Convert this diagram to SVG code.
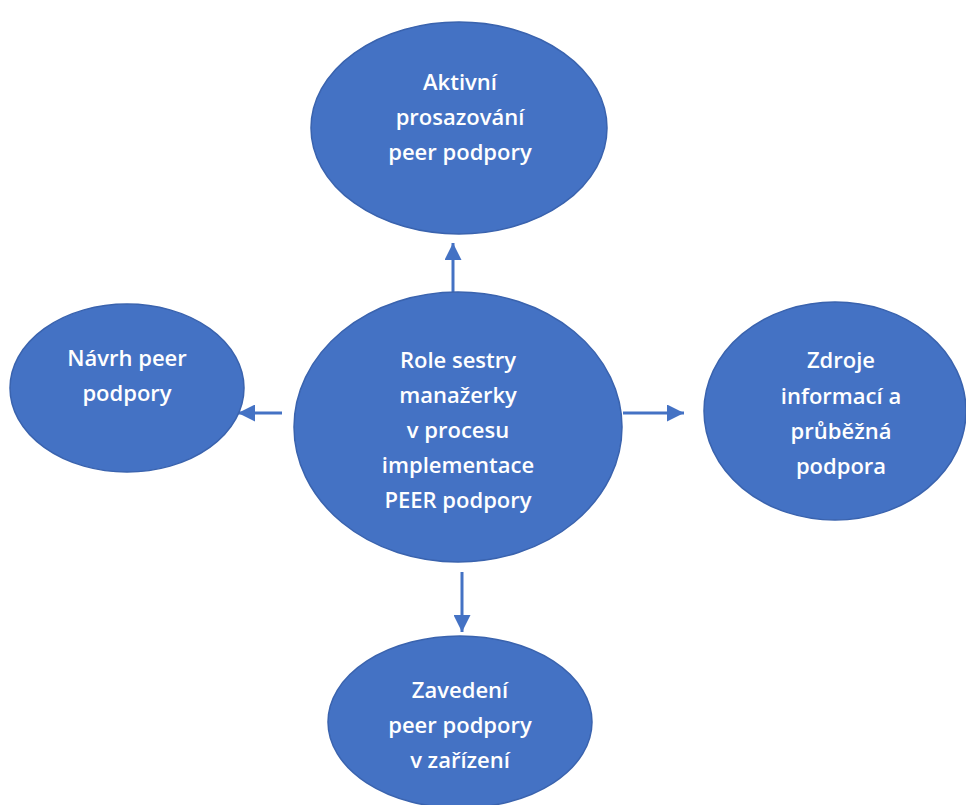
<svg xmlns="http://www.w3.org/2000/svg" width="966" height="805" viewBox="0 0 966 805">
<style>
.n{fill:#4472C4;stroke:#3A63AE;stroke-width:1.5}
.t{fill:#FFFFFF;font-family:"Open Sans","Liberation Sans",sans-serif;font-size:22px;font-weight:600;text-anchor:middle}
.c{stroke:#4472C4;stroke-width:3;fill:none}
</style>
<defs>
<marker id="a" viewBox="0 0 10 10" refX="10" refY="5" markerWidth="17" markerHeight="17" markerUnits="userSpaceOnUse" orient="auto">
<path d="M0,0 L10,5 L0,10 z" fill="#4472C4"/>
</marker>
</defs>
<rect width="966" height="805" fill="#FFFFFF"/>
<g id="connectors">
<line class="c" x1="453" y1="292" x2="453" y2="243" marker-end="url(#a)"/>
<line class="c" x1="282" y1="413" x2="238" y2="413" marker-end="url(#a)"/>
<line class="c" x1="623" y1="413" x2="684" y2="413" marker-end="url(#a)"/>
<line class="c" x1="462" y1="572" x2="462" y2="632" marker-end="url(#a)"/>
</g>
<g id="node-top">
<ellipse class="n" cx="459" cy="128" rx="148" ry="106"/>
<text class="t" x="460" y="90">Aktivní</text>
<text class="t" x="460" y="125">prosazování</text>
<text class="t" x="460" y="160">peer podpory</text>
</g>
<g id="node-center">
<ellipse class="n" cx="458" cy="427" rx="164" ry="135"/>
<text class="t" x="458" y="368">Role sestry</text>
<text class="t" x="458" y="403">manažerky</text>
<text class="t" x="458" y="438">v procesu</text>
<text class="t" x="458" y="473">implementace</text>
<text class="t" x="458" y="508">PEER podpory</text>
</g>
<g id="node-left">
<ellipse class="n" cx="127" cy="388" rx="117" ry="84"/>
<text class="t" x="127" y="366">Návrh peer</text>
<text class="t" x="127" y="401">podpory</text>
</g>
<g id="node-right">
<ellipse class="n" cx="835" cy="411" rx="131" ry="109"/>
<text class="t" x="841" y="368">Zdroje</text>
<text class="t" x="841" y="404">informací a</text>
<text class="t" x="841" y="439">průběžná</text>
<text class="t" x="841" y="474">podpora</text>
</g>
<g id="node-bottom">
<ellipse class="n" cx="460" cy="722" rx="132" ry="86"/>
<text class="t" x="460" y="698">Zavedení</text>
<text class="t" x="460" y="733">peer podpory</text>
<text class="t" x="460" y="768">v zařízení</text>
</g>
</svg>
